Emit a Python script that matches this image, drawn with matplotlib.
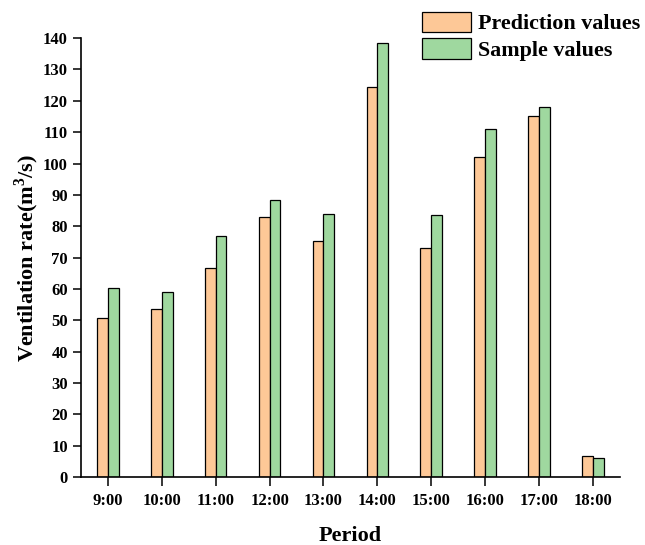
import matplotlib
matplotlib.use("Agg")
import matplotlib.pyplot as plt
import numpy as np

# Hourly ventilation rate (m^3/s)
periods = ["9:00", "10:00", "11:00", "12:00", "13:00",
           "14:00", "15:00", "16:00", "17:00", "18:00"]
prediction = [50.6, 53.6, 66.7, 83.0, 75.2, 124.5, 73.1, 102.1, 115.3, 6.8]
sample = [60.2, 59.0, 76.9, 88.3, 83.8, 138.4, 83.7, 110.9, 118.1, 6.1]

plt.rcParams["font.family"] = ["Liberation Serif", "DejaVu Serif"]
plt.rcParams["font.weight"] = "bold"
plt.rcParams["mathtext.fontset"] = "custom"
plt.rcParams["mathtext.rm"] = "Liberation Serif:bold"
plt.rcParams["mathtext.bf"] = "Liberation Serif:bold"

fig = plt.figure(figsize=(6.45, 5.45), dpi=100)
ax = fig.add_axes([0.1256, 0.1248, 0.961 - 0.1256, 0.930 - 0.1248])

x = np.arange(len(periods))
w = 0.2
ax.bar(x - w / 2, prediction, width=w, color="#FDC897", edgecolor="black",
       linewidth=0.9, label="Prediction values")
ax.bar(x + w / 2, sample, width=w, color="#9FD89F", edgecolor="black",
       linewidth=0.9, label="Sample values")

ax.set_xlim(-0.5, 9.5)
ax.set_ylim(0, 140)
ax.set_yticks(np.arange(0, 141, 10))
ax.set_xticks(x)
ax.set_xticklabels(periods)

for side in ("top", "right"):
    ax.spines[side].set_visible(False)
for side in ("left", "bottom"):
    ax.spines[side].set_linewidth(1.2)

ax.tick_params(axis="y", direction="out", length=5.5, width=1.1, labelsize=12, pad=4)
ax.tick_params(axis="x", direction="out", length=6.5, width=1.1, labelsize=12, pad=5)
for lbl in ax.get_xticklabels() + ax.get_yticklabels():
    lbl.set_fontweight("bold")

ax.set_xlabel("Period", fontsize=16, fontweight="bold", labelpad=12)
ax.set_ylabel(r"Ventilation rate(m$^3$/s)", fontsize=16, fontweight="bold", labelpad=1)

fig.legend(loc="upper left", bbox_to_anchor=(0.640, 0.995), frameon=False,
           prop={"family": "Liberation Serif", "weight": "bold", "size": 15.8},
           handlelength=2.25, handleheight=1.08, handletextpad=0.3,
           labelspacing=0.18, borderaxespad=0)

fig.savefig("out.png", dpi=100)
